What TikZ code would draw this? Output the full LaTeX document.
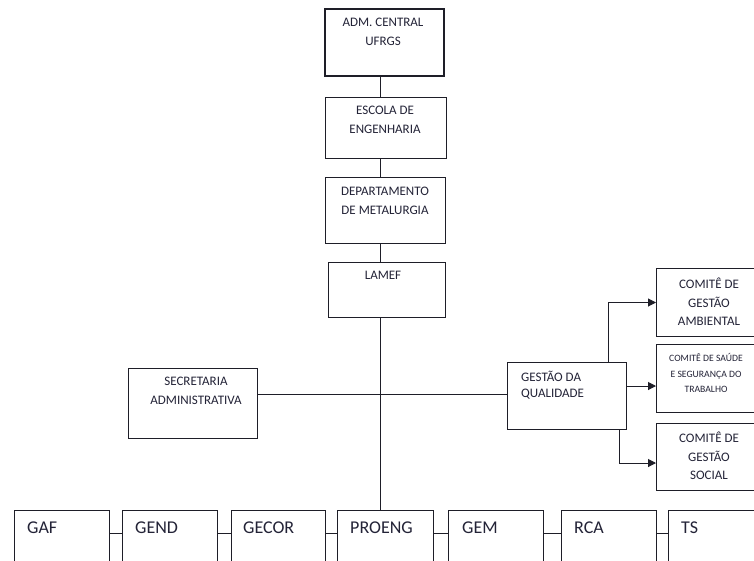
\documentclass[tikz,border=0pt]{standalone}
\usepackage{fontspec}
\setmainfont{Carlito}
\usetikzlibrary{arrows.meta,positioning}
\definecolor{ink}{RGB}{30,30,40}
\definecolor{txt}{RGB}{35,35,55}
\tikzset{
  box/.style={draw=ink, line width=1pt, fill=white, inner sep=0pt, anchor=north west},
  lbl/.style={text=txt, inner sep=0pt, font=\fontsize{13}{18.5}\selectfont, align=center},
  lblsmall/.style={text=txt, inner sep=0pt, font=\fontsize{9.7}{15.5}\selectfont, align=center},
  lblbig/.style={text=txt, inner sep=0pt, font=\fontsize{18}{20}\selectfont, anchor=west},
  link/.style={draw=ink, line width=1pt},
  arr/.style={link, -{Triangle[length=8pt,width=8pt]}}
}
\newcommand{\boxat}[5]{\node[box, minimum width=#4pt, minimum height=#5pt] (#1) at (#2,#3) {};}
\begin{document}
\begin{tikzpicture}[x=1pt,y=-1pt]
\useasboundingbox (0,0) rectangle (754,560);
\clip (0,0) rectangle (754,560);
\fill[white] (0,0) rectangle (754,560);

\coordinate (spine) at (380,0);

% top chain
\fill[ink!60] (326,10) rectangle (445,77);
\node[box, line width=1.6pt, minimum width=119pt, minimum height=67pt] (adm) at (324,8) {};
\node[lbl] (admt) at (383,32) {ADM. CENTRAL\\UFRGS};

\boxat{esc}{325}{97}{121}{61}
\node[lbl] (esct) at (385,120) {ESCOLA DE\\ENGENHARIA};

\boxat{dep}{325}{177}{120}{66}
\node[lbl] (dept) at (385,201) {DEPARTAMENTO\\DE METALURGIA};

\boxat{lam}{328}{262}{117}{55}
\node[lbl] (lamt) at (383,275) {LAMEF};

\draw[link] (spine |- adm.south) -- (spine |- esc.north);
\draw[link] (spine |- esc.south) -- (spine |- dep.north);
\draw[link] (spine |- dep.south) -- (spine |- lam.north);

% side units
\boxat{sec}{128}{368}{129}{70}
\node[lbl] (sect) at (196,391) {SECRETARIA\\ADMINISTRATIVA};

\boxat{gq}{507}{362}{119}{67}
\node[lbl, align=left, anchor=west, font=\fontsize{13}{16.5}\selectfont] (gqt) at (521,385) {GESTÃO DA\\QUALIDADE};

\boxat{ca}{656}{268}{98}{68}
\node[lbl] (cat) at (709,302) {COMITÊ DE\\GESTÃO\\AMBIENTAL};

\boxat{cs}{656}{344}{98}{68}
\node[lblsmall] (cst) at (706,373) {COMITÊ DE SAÚDE\\E SEGURANÇA DO\\TRABALHO};

\boxat{cso}{656}{423}{98}{67}
\node[lbl] (csot) at (709,456) {COMITÊ DE\\GESTÃO\\SOCIAL};

\draw[link] (sec.east |- 0,394) -- (gq.west |- 0,394);
\draw[arr] (608,0 |- gq.north) |- (ca.west);
\draw[arr] (gq.east |- 0,386) -- (cs.west |- 0,386);
\draw[arr] (619,0 |- gq.south) |- (cso.west |- 0,463);

% bottom row of groups
\boxat{gaf}{14}{510}{95}{60}
\boxat{gend}{122}{510}{95}{60}
\boxat{gecor}{231}{510}{94}{60}
\boxat{proeng}{337}{510}{96}{60}
\boxat{gem}{448}{510}{95}{60}
\boxat{rca}{561}{510}{95}{60}
\boxat{ts}{668}{510}{95}{60}

\node[lblbig] (gaft) at (27,528) {GAF};
\node[lblbig] (gendt) at (135,528) {GEND};
\node[lblbig] (gecort) at (243,528) {GECOR};
\node[lblbig] (proengt) at (350,528) {PROENG};
\node[lblbig] (gemt) at (462,528) {GEM};
\node[lblbig] (rcat) at (574,528) {RCA};
\node[lblbig] (tst) at (681,528) {TS};

\draw[link] (gaf.east |- 0,533) -- (gend.west |- 0,533);
\draw[link] (gend.east |- 0,533) -- (gecor.west |- 0,533);
\draw[link] (gecor.east |- 0,533) -- (proeng.west |- 0,533);
\draw[link] (proeng.east |- 0,533) -- (gem.west |- 0,533);
\draw[link] (gem.east |- 0,533) -- (rca.west |- 0,533);
\draw[link] (rca.east |- 0,533) -- (ts.west |- 0,533);

% main trunk from LAMEF down to PROENG
\draw[link] (spine |- lam.south) -- (spine |- proeng.north);
\end{tikzpicture}
\end{document}
